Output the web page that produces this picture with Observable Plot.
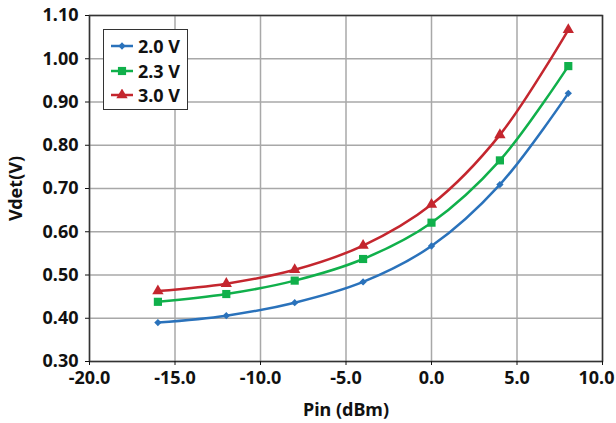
<!DOCTYPE html>
<html>
<head>
<meta charset="utf-8">
<script src="https://cdn.jsdelivr.net/npm/d3@7"></script>
<script src="https://cdn.jsdelivr.net/npm/@observablehq/plot@0.6"></script>
<style>
  body { margin: 0; background: #fff; }
  #wrap { position: relative; width: 616px; height: 423px; font-family: "Noto Sans", sans-serif; font-weight: bold; }
  #legend { position: absolute; left: 103px; top: 29px; width: 85px; height: 81px; border: 1.5px solid #333; background: #fff; box-sizing: border-box; }
  #legend .row { position: absolute; left: 0; height: 24px; display: flex; align-items: center; white-space: nowrap; }
  #legend svg { margin-left: 7px; }
  #legend span { font-size: 18px; margin-left: 5px; color: #111; }
</style>
</head>
<body>
<div id="wrap"></div>
<script>
const pin = [-16, -12, -8, -4, 0, 4, 8];
const v20 = [0.390, 0.406, 0.436, 0.484, 0.567, 0.709, 0.920];
const v23 = [0.438, 0.456, 0.487, 0.537, 0.621, 0.765, 0.983];
const v30 = [0.463, 0.480, 0.512, 0.568, 0.663, 0.824, 1.067];
const seriesNames = ["2.0 V", "2.3 V", "3.0 V"];
const seriesColors = ["#2a72bb", "#10b04b", "#c4262e"];
const seriesSymbols = ["diamond2", "square", "triangle"];
const seriesR = [3.3, 4.6, 4.2];
const xTicks = [-20, -15, -10, -5, 0, 5, 10];
const yTicks = [0.3, 0.4, 0.5, 0.6, 0.7, 0.8, 0.9, 1.0, 1.1];

const values = [v20, v23, v30];
const data = [];
values.forEach((vals, i) => vals.forEach((v, j) => data.push({series: seriesNames[i], x: pin[j], y: v})));

const font = `"Noto Sans", sans-serif`;

const marks = [
  Plot.ruleX(xTicks, {stroke: "#a8a8a8", strokeWidth: 1.5}),
  Plot.ruleY(yTicks, {stroke: "#a8a8a8", strokeWidth: 1.5}),
  Plot.frame({stroke: "#333", strokeWidth: 1.5}),
  Plot.axisX({ticks: xTicks, tickFormat: d => d.toFixed(1), tickSize: 4, tickPadding: 6, label: "Pin (dBm)", labelAnchor: "center", labelArrow: "none", labelOffset: 54, fontSize: 18, fill: "#111"}),
  Plot.axisY({ticks: yTicks, tickFormat: d => d.toFixed(2), tickSize: 4, tickPadding: 7, label: "Vdet(V)", labelAnchor: "center", labelArrow: "none", labelOffset: 80, fontSize: 18, fill: "#111"})
];
seriesNames.forEach((name, i) => {
  const d = data.filter(r => r.series === name);
  marks.push(Plot.line(d, {x: "x", y: "y", stroke: seriesColors[i], strokeWidth: 2.5, curve: "catmull-rom"}));
  marks.push(Plot.dot(d, {x: "x", y: "y", fill: seriesColors[i], symbol: seriesSymbols[i], r: seriesR[i], stroke: "none"}));
});

const chart = Plot.plot({
  width: 616, height: 423,
  marginLeft: 89, marginRight: 14, marginTop: 15, marginBottom: 62,
  style: {fontFamily: font, fontWeight: "bold", fontSize: "18px", background: "#fff", color: "#111"},
  x: {domain: [-20, 10]},
  y: {domain: [0.3, 1.1]},
  marks
});
const wrap = document.getElementById("wrap");
wrap.appendChild(chart);

// keep the last x tick label ("10.0") inside the picture, as in the reference
const xLabels = chart.querySelectorAll('g[aria-label="x-axis tick label"] text');
if (xLabels.length) {
  const last = xLabels[xLabels.length - 1];
  last.setAttribute("dx", "-6");
}

const symMap = {diamond2: d3.symbolDiamond2, square: d3.symbolSquare, triangle: d3.symbolTriangle};
const legend = document.createElement("div");
legend.id = "legend";
seriesNames.forEach((name, i) => {
  const row = document.createElement("div");
  row.className = "row";
  row.style.top = (4 + i * 24.5) + "px";
  const sym = d3.symbol(symMap[seriesSymbols[i]], Math.PI * seriesR[i] * seriesR[i])();
  row.innerHTML = `<svg width="22" height="12" viewBox="-11 -6 22 12"><line x1="-11" x2="11" y1="0" y2="0" stroke="${seriesColors[i]}" stroke-width="2.5"/><path d="${sym}" fill="${seriesColors[i]}"/></svg><span>${name}</span>`;
  legend.appendChild(row);
});
wrap.appendChild(legend);
</script>
</body>
</html>
